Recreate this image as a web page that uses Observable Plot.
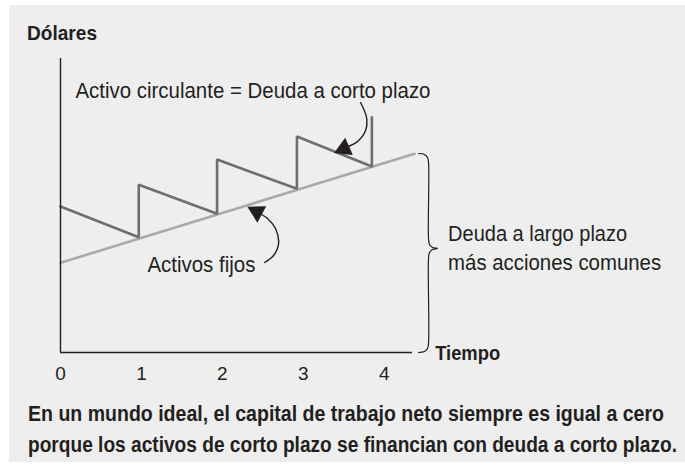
<!DOCTYPE html>
<html>
<head>
<meta charset="utf-8">
<script src="https://cdn.jsdelivr.net/npm/d3@7"></script>
<script src="https://cdn.jsdelivr.net/npm/@observablehq/plot@0.6"></script>
<style>
  body { margin: 0; background: #ffffff; width: 685px; height: 470px; overflow: hidden; }
  .f { font-family: "Liberation Sans", Arial, sans-serif; color: #231f20; }
  #box { position: absolute; left: 9px; top: 5px; width: 676px; height: 457px; background: #eeeeee; }
  #title { position: absolute; left: 27px; top: 21px; font-size: 21px; font-weight: bold; line-height: 24px; white-space: nowrap; }
  #chart { position: absolute; left: 0; top: 45px; }
  #caption { position: absolute; left: 28px; top: 398px; font-size: 22px; font-weight: bold; line-height: 31px; white-space: nowrap; }
  .sq { display: inline-block; transform-origin: 0 50%; }
</style>
</head>
<body>
<div id="box"></div>
<div id="title" class="f"><span class="sq" data-w="70">Dólares</span></div>
<div id="chart"></div>
<div id="caption" class="f">
  <div><span class="sq" data-w="636">En un mundo ideal, el capital de trabajo neto siempre es igual a cero</span></div>
  <div><span class="sq" data-w="649">porque los activos de corto plazo se financian con deuda a corto plazo.</span></div>
</div>
<script>
// ---- data (time in periods, dollars in arbitrary units) ----
const sawX = [0, 0.967, 0.967, 1.935, 1.935, 2.922, 2.922, 3.848, 3.848];
const sawY = [146, 115.3, 167.7, 138.7, 193, 163.7, 216, 186, 235.3];
const fixedX = [0, 4.375];
const fixedY = [89.7, 198.7];
const tickValues = [0, 1, 2, 3, 4];
const xMax = 4.35;
const yMax = 294;

// annotation anchor points (data units)
const arrowLowX = [2.522, 2.633, 2.695, 2.657, 2.559, 2.484];
const arrowLowY = [90, 97, 109, 124, 134, 138];
const arrowHighX = [3.708, 3.782, 3.770, 3.671, 3.560];
const arrowHighY = [250, 235, 222, 211, 206];
const headX = [2.428, 3.504];
const headY = [140.6, 204];
const headAngle = [-62, -114];
const braceX = [4.424, 4.498, 4.535, 4.548, 4.548, 4.560, 4.597, 4.659, 4.597, 4.560, 4.548, 4.548, 4.535, 4.498, 4.424];
const braceY = [199, 198, 195, 190, 114, 108, 105, 104, 103, 100, 94, 9, 4, 1, 0];

const labelText = ["Activo circulante = Deuda a corto plazo", "Activos fijos", "Deuda a largo plazo", "más acciones comunes"];
const labelX = [0.185, 1.074, 4.79, 4.79];
const labelY = [262, 88, 119, 90];
const axisTitle = "Tiempo";
const axisTitleX = 4.63;
const axisTitleY = -1;

// text fitting widths (px) to mimic the condensed face
const fitWidth = {
  "Activo circulante = Deuda a corto plazo": 355,
  "Activos fijos": 108,
  "Deuda a largo plazo": 179,
  "más acciones comunes": 213,
  "Tiempo": 65
};

const zip = (xs, ys) => xs.map((x, i) => ({x, y: ys[i]}));
const saw = zip(sawX, sawY);
const fixed = zip(fixedX, fixedY);
const arrowLow = zip(arrowLowX, arrowLowY);
const arrowHigh = zip(arrowHighX, arrowHighY);
const heads = headX.map((x, i) => ({x, y: headY[i], a: headAngle[i]}));
const brace = zip(braceX, braceY);
const labels = labelText.map((t, i) => ({text: t, x: labelX[i], y: labelY[i]}));

const fontFam = '"Liberation Sans", Arial, sans-serif';
const ink = "#231f20";

const chart = Plot.plot({
  width: 685,
  height: 350,
  marginLeft: 60,
  marginRight: 273,
  marginTop: 13,
  marginBottom: 43,
  x: {domain: [0, xMax]},
  y: {domain: [0, yMax]},
  style: {background: "transparent", fontFamily: fontFam, color: ink, overflow: "visible"},
  marks: [
    Plot.axisX(tickValues, {tickSize: 0, tickPadding: 14, fontSize: 19, tickFormat: d => String(d), label: null, fill: ink}),
    Plot.axisY({ticks: [], label: null}),
    Plot.line(fixed, {x: "x", y: "y", stroke: "#a9a9a9", strokeWidth: 2.6}),
    Plot.line(saw, {x: "x", y: "y", stroke: "#6e6e6e", strokeWidth: 2.6, strokeLinejoin: "miter"}),
    Plot.ruleX([0], {y1: 0, y2: yMax, stroke: ink, strokeWidth: 1.4}),
    Plot.ruleY([0], {x1: 0, x2: xMax, stroke: ink, strokeWidth: 1.4}),
    Plot.line(brace, {x: "x", y: "y", curve: "catmull-rom", stroke: ink, strokeWidth: 1.2, clip: false}),
    Plot.line(arrowLow, {x: "x", y: "y", curve: "catmull-rom", stroke: ink, strokeWidth: 1.4}),
    Plot.line(arrowHigh, {x: "x", y: "y", curve: "catmull-rom", stroke: ink, strokeWidth: 1.4}),
    Plot.dot(heads, {x: "x", y: "y", symbol: "triangle", r: 7, fill: ink, stroke: "none", rotate: "a"}),
    Plot.text(labels, {x: "x", y: "y", text: "text", textAnchor: "start", fontSize: 22, fill: ink, clip: false}),
    Plot.text([axisTitle], {x: axisTitleX, y: axisTitleY, text: d => d, textAnchor: "start", fontSize: 21, fontWeight: "bold", fill: ink, clip: false})
  ]
});
document.getElementById("chart").appendChild(chart);

// squeeze SVG labels to the condensed widths
chart.querySelectorAll("text").forEach(t => {
  const w = fitWidth[t.textContent];
  if (w) { t.setAttribute("textLength", w); t.setAttribute("lengthAdjust", "spacingAndGlyphs"); }
});
// squeeze HTML texts
document.querySelectorAll(".sq").forEach(s => {
  const w = s.getBoundingClientRect().width;
  const target = +s.dataset.w;
  s.style.transform = `scaleX(${target / w})`;
});
</script>
</body>
</html>
